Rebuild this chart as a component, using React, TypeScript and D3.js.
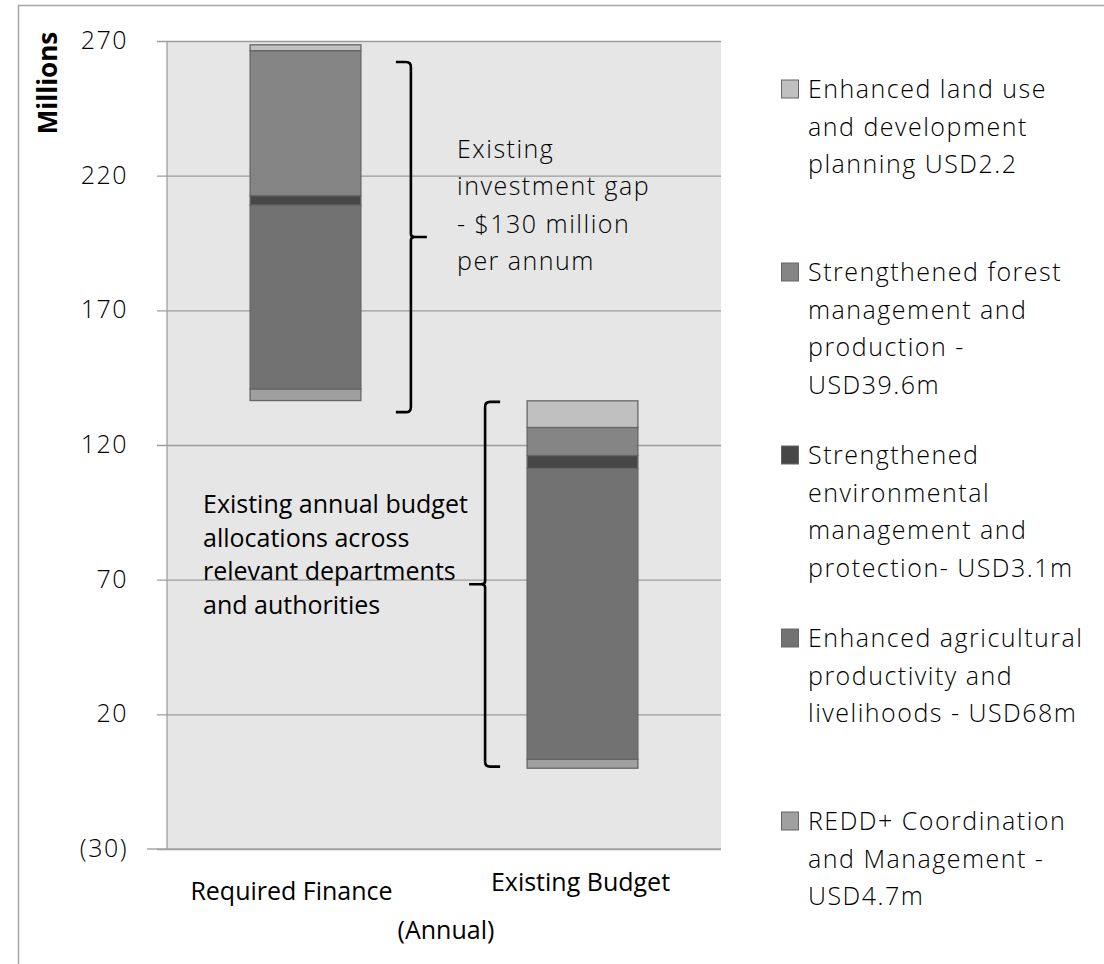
import React, { useEffect, useRef } from 'react';
import * as d3 from 'd3';

const categories = ['Required Finance', 'Existing Budget'];
// invisible spacer that lifts the Required Finance stack on top of the existing budget
const spacer = [136.5, 0];
const reddCoordination = [4.3, 3.3];
const agricultural = [68.3, 108];
const environmental = [3.5, 4.8];
const forestMgmt = [53.8, 10.4];
const landUse = [2.2, 9.9];
const yTicks = [-30, 20, 70, 120, 170, 220, 270];

const legendLand = ['Enhanced land use', 'and development', 'planning USD2.2'];
const legendForest = ['Strengthened forest', 'management and', 'production -', 'USD39.6m'];
const legendEnv = ['Strengthened', 'environmental', 'management and', 'protection- USD3.1m'];
const legendAgri = ['Enhanced agricultural', 'productivity and', 'livelihoods - USD68m'];
const legendRedd = ['REDD+ Coordination', 'and Management -', 'USD4.7m'];

const gapNote = ['Existing', 'investment gap', '- $130 million', 'per annum'];
const budgetNote = ['Existing annual budget', 'allocations across', 'relevant departments', 'and authorities'];

// brace annotations, in data units
const braces = [
  { cat: 'Required Finance', from: 132.2, to: 262.2, side: 'right' },
  { cat: 'Existing Budget', from: 0.6, to: 136, side: 'left' },
];

const FONT = '"Open Sans", sans-serif';
const LIGHT_SPACING = 1.5;

export default function App() {
  const svgRef = useRef<SVGSVGElement>(null);

  useEffect(() => {
    if (!svgRef.current) return;
    const width = 1104;
    const height = 964;
    const plot = { left: 167, right: 721, top: 41, bottom: 849 };

    const svg = d3.select(svgRef.current);
    svg.selectAll('*').remove();

    // outer chart border (cropped on right/bottom)
    svg.append('path')
      .attr('d', `M18.5,${height} L18.5,5.5 L${width},5.5`)
      .attr('fill', 'none')
      .attr('stroke', '#a6a6a6')
      .attr('stroke-width', 1.5);

    const x = d3.scaleBand().domain(categories).range([plot.left, plot.right]).padding(0);
    const y = d3.scaleLinear().domain([-30, 270]).range([plot.bottom, plot.top]);
    const barW = x.bandwidth() * 0.4;

    svg.append('rect')
      .attr('x', plot.left)
      .attr('y', plot.top)
      .attr('width', plot.right - plot.left)
      .attr('height', plot.bottom - plot.top)
      .attr('fill', '#e6e6e6');

    // gridlines + ticks
    svg.append('g')
      .attr('transform', `translate(${plot.left},0)`)
      .call(d3.axisLeft(y).tickValues(yTicks).tickSize(-(plot.right - plot.left)).tickFormat(() => ''))
      .call(g => g.select('.domain').remove())
      .call(g => g.selectAll('line').attr('stroke', '#9c9c9c').attr('stroke-width', 1.3).attr('x1', -10));

    svg.append('line')
      .attr('x1', plot.left).attr('x2', plot.left)
      .attr('y1', plot.top).attr('y2', plot.bottom)
      .attr('stroke', '#a0a0a0').attr('stroke-width', 1.3);
    svg.append('line')
      .attr('x1', 147).attr('x2', plot.right)
      .attr('y1', y(-30)).attr('y2', y(-30))
      .attr('stroke', '#a6a6a6').attr('stroke-width', 1.5);

    svg.append('g')
      .selectAll('text')
      .data(yTicks)
      .join('text')
      .attr('x', 128)
      .attr('y', d => y(d) + 8)
      .attr('text-anchor', 'end')
      .attr('font-family', FONT)
      .attr('font-weight', 300)
      .attr('font-size', 25)
      .attr('letter-spacing', LIGHT_SPACING)
      .attr('fill', '#000')
      .text(d => (d < 0 ? `(${Math.abs(d)})` : `${d}`));

    svg.append('text')
      .attr('transform', 'translate(57,83) rotate(-90)')
      .attr('text-anchor', 'middle')
      .attr('font-family', FONT)
      .attr('font-weight', 700)
      .attr('font-size', 26)
      .text('Millions');

    // stacked bars
    const series = [
      { key: 'spacer', values: spacer, color: 'none', legend: [] as string[] },
      { key: 'redd', values: reddCoordination, color: '#a0a0a0', legend: legendRedd },
      { key: 'agri', values: agricultural, color: '#727272', legend: legendAgri },
      { key: 'env', values: environmental, color: '#474747', legend: legendEnv },
      { key: 'forest', values: forestMgmt, color: '#858585', legend: legendForest },
      { key: 'land', values: landUse, color: '#c0c0c0', legend: legendLand },
    ];
    const table = categories.map((c, i) => {
      const row: any = { cat: c };
      series.forEach(s => { row[s.key] = s.values[i]; });
      return row;
    });
    const stacked = d3.stack<any>().keys(series.map(s => s.key))(table);

    stacked.forEach((layer, li) => {
      const s = series[li];
      if (s.key === 'spacer') return;
      svg.append('g')
        .selectAll('rect')
        .data(layer)
        .join('rect')
        .attr('x', d => (x(d.data.cat) as number) + (x.bandwidth() - barW) / 2)
        .attr('y', d => y(d[1]))
        .attr('width', barW)
        .attr('height', d => y(d[0]) - y(d[1]))
        .attr('fill', s.color)
        .attr('stroke', '#666')
        .attr('stroke-width', 1.3);
    });

    // braces
    braces.forEach(b => {
      const dir = b.side === 'right' ? 1 : -1;
      const cx = (x(b.cat) as number) + x.bandwidth() / 2;
      const x0 = cx + dir * (barW / 2 + (b.side === 'right' ? 50 : 42));
      const yT = y(b.to), yB = y(b.from), yM = (yT + yB) / 2;
      const h = 15, tip = 16, r = 5;
      const p = d3.path();
      p.moveTo(x0 - dir * h, yT);
      p.lineTo(x0 - dir * r, yT);
      p.quadraticCurveTo(x0, yT, x0, yT + r);
      p.lineTo(x0, yM - 3);
      p.quadraticCurveTo(x0, yM, x0 + dir * 4, yM);
      p.lineTo(x0 + dir * tip, yM);
      p.moveTo(x0 + dir * 4, yM);
      p.quadraticCurveTo(x0, yM, x0, yM + 3);
      p.lineTo(x0, yB - r);
      p.quadraticCurveTo(x0, yB, x0 - dir * r, yB);
      p.lineTo(x0 - dir * h, yB);
      svg.append('path')
        .attr('d', p.toString())
        .attr('fill', 'none')
        .attr('stroke', '#000')
        .attr('stroke-width', 2.6);
    });

    // annotation texts
    svg.append('text')
      .attr('font-family', FONT)
      .attr('font-weight', 300)
      .attr('font-size', 25)
      .attr('letter-spacing', LIGHT_SPACING)
      .selectAll('tspan')
      .data(gapNote)
      .join('tspan')
      .attr('x', 457)
      .attr('y', (_, i) => 158 + i * 37.3)
      .text(d => d);

    svg.append('text')
      .attr('font-family', FONT)
      .attr('font-size', 25)
      .selectAll('tspan')
      .data(budgetNote)
      .join('tspan')
      .attr('x', 203)
      .attr('y', (_, i) => 513 + i * 33.7)
      .text(d => d);

    // category labels
    const catY = [900, 891];
    svg.append('g')
      .selectAll('text')
      .data(categories)
      .join('text')
      .attr('x', (d, i) => (x(d) as number) + x.bandwidth() / 2 - (i === 0 ? 14 : 2))
      .attr('y', (_, i) => catY[i])
      .attr('text-anchor', 'middle')
      .attr('font-family', FONT).attr('font-size', 25)
      .text(d => d);
    svg.append('text')
      .attr('x', 446).attr('y', 939)
      .attr('text-anchor', 'middle')
      .attr('font-family', FONT).attr('font-size', 25)
      .text('(Annual)');

    // legend (top to bottom reverses the stack)
    const legendItems = series.filter(s => s.key !== 'spacer').slice().reverse();
    const lg = svg.append('g');
    legendItems.forEach((s, i) => {
      const base = 98 + i * 183;
      lg.append('rect')
        .attr('x', 781.5).attr('y', base - 18)
        .attr('width', 17).attr('height', 18)
        .attr('fill', s.color)
        .attr('stroke', '#666').attr('stroke-width', 1);
      lg.append('text')
        .attr('font-family', FONT)
        .attr('font-weight', 300)
        .attr('font-size', 25)
        .attr('letter-spacing', LIGHT_SPACING)
        .selectAll('tspan')
        .data(s.legend)
        .join('tspan')
        .attr('x', 808)
        .attr('y', (_, j) => base + j * 37.5)
        .text(d => d);
    });
  }, []);

  return (
    <div style={{ position: 'absolute', left: 0, top: 0, width: 1104, height: 964, background: '#fff' }}>
      <svg ref={svgRef} width={1104} height={964} style={{ display: 'block' }} />
    </div>
  );
}
